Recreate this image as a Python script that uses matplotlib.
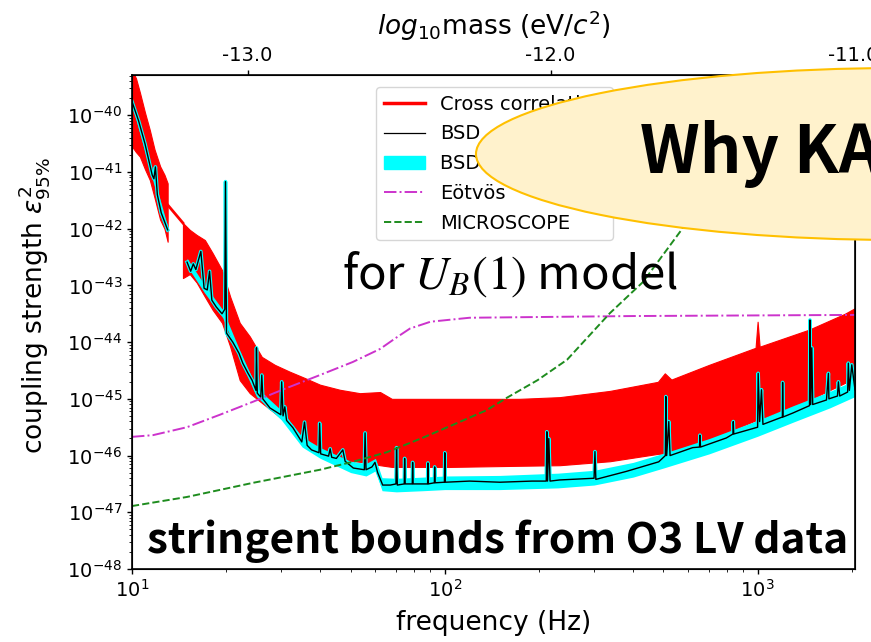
import numpy as np
import matplotlib

matplotlib.use("Agg")
import matplotlib.pyplot as plt
from matplotlib.lines import Line2D
from matplotlib.patches import Ellipse, Patch
from matplotlib.ticker import FixedLocator, FuncFormatter, LogLocator, NullFormatter


# values: frequency in Hz, coupling strength as log10
cc_freq_low = [10.0, 10.3, 10.6, 11.0, 11.4, 11.8, 12.3, 12.7, 13.0]
cc_upper_low = [-39.2, -39.35, -39.6, -39.95, -40.26, -40.6, -40.9, -41.05, -41.2]
cc_lower_low = [-40.55, -40.65, -40.73, -40.95, -41.14, -41.45, -41.84, -42.0, -42.23]

cc_gap_freq = [13.0, 14.55]
cc_gap_value = [-41.58, -41.9]

cc_freq = [14.55, 15.3, 16.1, 17.1, 18.1, 19.4, 20.6, 22.1, 23.8, 26.0, 28.6,
           31.9, 35.6, 39.9, 46.2, 53.5, 62.1, 67.7, 104, 173, 233, 337, 480,
           505, 530, 700, 985, 1000, 1015, 1460, 1900, 2048]
cc_upper = [-41.9, -42.02, -42.11, -42.2, -42.43, -42.73, -43.2, -43.66, -43.9,
            -44.26, -44.4, -44.52, -44.63, -44.75, -44.84, -44.9, -44.88, -45.0,
            -45.0, -45.0, -44.97, -44.86, -44.7, -44.55, -44.66, -44.4, -44.1,
            -43.64, -44.08, -43.78, -43.5, -43.4]
cc_lower = [-42.87, -42.8, -42.95, -43.2, -43.43, -43.66, -44.08, -44.67, -44.9,
            -45.07, -45.25, -45.46, -45.72, -45.94, -46.08, -46.11, -46.17, -46.2,
            -46.2, -46.18, -46.17, -46.1, -45.97, -45.96, -45.93, -45.72, -45.38,
            -45.37, -45.36, -45.02, -44.72, -44.62]

bsd_freq_low = [10.0, 10.5, 11.0, 11.6, 11.75, 11.88, 12.05, 12.4, 13.0]
bsd_value_low = [-39.76, -40.1, -40.5, -41.05, -41.12, -40.91, -41.4, -41.72, -42.02]

bsd_freq = [15.0, 15.4, 15.7, 16.0, 16.6, 17.0, 17.4, 17.7, 18.0, 18.6, 19.4,
            19.8, 19.9, 20.05, 21.0, 22.0, 22.6, 23.5, 24.2, 24.9, 25.0, 25.15,
            25.8, 26.0, 26.2, 27.6, 29.9, 30.1, 30.4, 30.8, 31.2, 32.7, 34.9,
            35.6, 36.3, 37.5, 39.6, 39.8, 40.1, 42.5, 43.0, 43.5, 45.0, 47.2,
            48.0, 51.0, 55.3, 55.6, 56.0, 58.5, 59.8, 61.0, 63.3, 67.0, 69.8,
            70.1, 70.5, 74.2, 74.4, 74.7, 78.7, 78.9, 79.2, 85.0, 88.1, 88.3,
            88.6, 92.6, 92.8, 93.1, 99.7, 100.0, 100.4, 120, 150, 190, 211, 212,
            213, 215, 217, 233, 300, 302, 304, 380, 483, 507, 509, 512, 520,
            525, 620, 652, 654, 657, 794, 834, 836, 839, 1000, 1004, 1015, 1029,
            1040, 1200, 1202, 1206, 1296, 1465, 1470, 1478, 1490, 1500, 1660,
            1684, 1690, 1800, 1812, 1830, 1940, 1950, 1965, 2000, 2048]
bsd_value = [-42.59, -42.75, -42.62, -42.72, -42.4, -43.05, -43.08, -42.75, -43.26,
             -43.38, -43.5, -43.42, -41.17, -43.84, -44.0, -44.2, -44.37, -44.55,
             -44.67, -44.85, -44.1, -44.9, -44.97, -44.58, -45.0, -45.16, -45.28,
             -44.7, -45.3, -45.14, -45.38, -45.51, -45.76, -45.41, -45.82, -45.9,
             -45.95, -45.43, -45.97, -46.01, -45.88, -46.03, -46.05, -45.9, -46.1,
             -46.22, -46.25, -45.6, -46.25, -46.2, -46.12, -46.3, -46.52, -46.52,
             -46.5, -45.86, -46.52, -46.5, -46.05, -46.5, -46.5, -46.12, -46.5,
             -46.5, -46.5, -46.13, -46.5, -46.48, -46.2, -46.48, -46.47, -45.95,
             -46.47, -46.45, -46.47, -46.45, -46.45, -45.58, -46.45, -45.7, -46.45,
             -46.43, -46.4, -45.93, -46.42, -46.28, -46.11, -46.0, -44.96, -46.0,
             -45.4, -46.0, -45.86, -45.85, -45.64, -45.85, -45.69, -45.62, -45.4,
             -45.62, -45.5, -44.55, -45.4, -44.84, -45.45, -45.32, -44.71, -45.32,
             -45.25, -45.12, -43.61, -45.1, -44.1, -45.1, -45.02, -44.55, -45.0,
             -44.95, -44.7, -44.95, -44.88, -44.37, -44.85, -44.4, -44.84]

band_freq_low = [10.0, 11.6, 13.0]
band_lo_low = [-39.82, -41.11, -42.08]
band_hi_low = [-39.7, -40.99, -41.96]

band_freq = [15.0, 17.0, 19.5, 22.0, 25.0, 30.0, 35.0, 40.0, 50.0, 56.0, 60.0,
             63.0, 70.0, 85.0, 100, 150, 230, 300, 400, 500, 700, 1000, 1300,
             1700, 2048]
band_lo = [-42.66, -43.12, -43.57, -44.28, -44.96, -45.37, -45.85, -46.05, -46.3,
           -46.36, -46.27, -46.62, -46.64, -46.62, -46.6, -46.6, -46.57, -46.52,
           -46.38, -46.22, -45.97, -45.66, -45.41, -45.16, -44.96]
band_hi = [-42.52, -42.98, -43.43, -44.12, -44.8, -45.2, -45.67, -45.86, -46.1,
           -46.14, -46.05, -46.39, -46.4, -46.38, -46.36, -46.35, -46.31, -46.26,
           -46.12, -45.96, -45.7, -45.38, -45.12, -44.87, -44.67]

eotvos_freq = [10.0, 11.67, 14.98, 19.1, 24.4, 31.2, 39.9, 50.8, 62.1, 70.0,
               77.4, 90.0, 120, 398, 2048]
eotvos_value = [-45.67, -45.64, -45.5, -45.28, -45.05, -44.81, -44.58, -44.35,
                -44.12, -43.92, -43.76, -43.64, -43.57, -43.54, -43.52]

micro_freq = [10.0, 14.98, 24.4, 39.9, 50.8, 65.3, 84.7, 106, 136, 158, 198,
              246, 337, 430, 571, 700, 900]
micro_value = [-46.89, -46.73, -46.48, -46.25, -46.11, -45.94, -45.69, -45.46,
               -45.2, -44.98, -44.67, -44.31, -43.49, -42.94, -42.02, -41.2, -40.2]

legend_labels = ["Cross correlation", "BSD", "BSD range", "E\u00f6tv\u00f6s", "MICROSCOPE"]
mass_ticks = [-13.0, -12.0, -11.0]


def pw(values):
    return 10.0 ** np.asarray(values)


plt.rcParams["font.family"] = ["DejaVu Sans"]
jp_font = ["Noto Sans CJK JP", "DejaVu Sans"]

fig = plt.figure(figsize=(8.71, 6.42), dpi=100)
ax = fig.add_axes([132 / 871, 1 - 569 / 642, 723 / 871, 494 / 642])
ax.set_xscale("log")
ax.set_yscale("log")

# cross correlation
ax.fill_between(cc_freq_low, pw(cc_lower_low), pw(cc_upper_low), color="red", lw=0.8)
ax.plot(cc_gap_freq, pw(cc_gap_value), color="red", lw=2)
ax.fill_between(cc_freq, pw(cc_lower), pw(cc_upper), color="red", lw=0.8)

# BSD band and line
ax.fill_between(band_freq_low, pw(band_lo_low), pw(band_hi_low), color="cyan", lw=0)
ax.fill_between(band_freq, pw(band_lo), pw(band_hi), color="cyan", lw=0)
for f, v in [(bsd_freq_low, bsd_value_low), (bsd_freq, bsd_value)]:
    ax.plot(f, pw(v), color="cyan", lw=2.6)
    ax.plot(f, pw(v), color="black", lw=1.0)

ax.plot(eotvos_freq, pw(eotvos_value), color="#cc33cc", lw=1.4, ls="-.")
ax.plot(micro_freq, pw(micro_value), color="#1e8c1e", lw=1.4, ls="--")

ax.set_xlim(10, 2048)
ax.set_ylim(1e-48, 10 ** -39.29)
ax.yaxis.set_major_locator(LogLocator(base=10, numticks=20))
ax.yaxis.set_minor_locator(LogLocator(base=10, subs=np.arange(2, 10), numticks=200))
ax.yaxis.set_minor_formatter(NullFormatter())
ax.tick_params(labelsize=14, width=1.0)
ax.set_xlabel("frequency (Hz)", fontsize=19, labelpad=7)
ax.set_ylabel("coupling strength $\\varepsilon^2_{95\\%}$", fontsize=19)
ax.yaxis.set_label_coords(-0.11, 0.534)
for s in ax.spines.values():
    s.set_linewidth(1.2)

handles = [
    Line2D([], [], color="red", lw=2.5),
    Line2D([], [], color="black", lw=0.9),
    Patch(color="cyan"),
    Line2D([], [], color="#cc33cc", lw=1.4, ls="-."),
    Line2D([], [], color="#1e8c1e", lw=1.4, ls="--"),
]
ax.legend(handles, legend_labels, loc="upper left", fontsize=14,
          bbox_to_anchor=(376 / 871, 1 - 87 / 642), bbox_transform=fig.transFigure,
          borderaxespad=0, labelspacing=0.55, handlelength=2.1)

top = ax.twiny()
top.set_xlim(-13.3816, -10.995)
top.xaxis.set_major_locator(FixedLocator(mass_ticks))
top.xaxis.set_major_formatter(FuncFormatter(lambda v, p: f"{v:.1f}"))
top.tick_params(labelsize=14, width=1.0)
top.set_xlabel("$log_{10}$mass (eV/$c^2$)", fontsize=19, labelpad=8)

# slide overlay drawn in pixel coordinates
over = fig.add_axes([0, 0, 1, 1])
over.set_xlim(0, 871)
over.set_ylim(642, 0)
over.axis("off")
over.add_patch(Ellipse((900, 154), 848, 172, facecolor="#fff2cc", edgecolor="#ffc000", lw=1.5))
over.text(640, 173, "Why KAGRA?", fontsize=47, fontweight="bold", family=jp_font,
          ha="left", va="baseline")
over.text(342, 289, "for $U_B(1)$ model", fontsize=34, family=jp_font,
          math_fontfamily="stix", ha="left", va="baseline")
over.text(147, 553, "stringent bounds from O3 LV data", fontsize=30.5, fontweight="bold",
          family=jp_font, ha="left", va="baseline")

fig.savefig("out.png", dpi=100)
